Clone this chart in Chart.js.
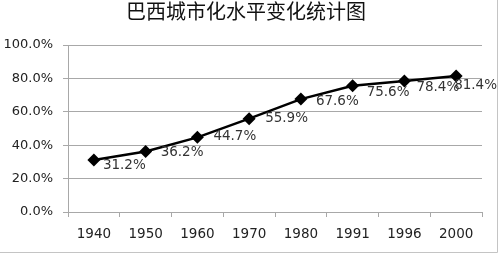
<!DOCTYPE html>
<html>
<head>
<meta charset="utf-8">
<script src="https://cdn.jsdelivr.net/npm/chart.js@4/dist/chart.umd.min.js"></script>
<style>
  html, body { margin: 0; padding: 0; background: #ffffff; }
  #wrap { width: 500px; height: 258px; }
</style>
</head>
<body>
<div id="wrap"><canvas id="c" width="500" height="258"></canvas></div>
<script>
const chartTitle = '巴西城市化水平变化统计图';
const years = ['1940', '1950', '1960', '1970', '1980', '1991', '1996', '2000'];
const urbanRate = [31.2, 36.2, 44.7, 55.9, 67.6, 75.6, 78.4, 81.4];
const yTicks = [0, 20, 40, 60, 80, 100];
// per-label nudge (pixels relative to each point), as in the original chart
const labelNudgeX = [9, 15, 16, 16, 15, 14, 12, -2];
const labelNudgeY = [6, 1, -1, 0, 2, 7, 6, 9];

const textFont = 'DejaVu Sans';
const gridGray = '#a8a8a8';

const dataLabels = {
  id: 'dataLabels',
  afterDatasetsDraw(chart) {
    const ctx = chart.ctx;
    const meta = chart.getDatasetMeta(0);
    ctx.save();
    ctx.font = '13.5px "' + textFont + '"';
    ctx.fillStyle = '#333333';
    ctx.textAlign = 'left';
    ctx.textBaseline = 'middle';
    meta.data.forEach((pt, i) => {
      ctx.fillText(urbanRate[i].toFixed(1) + '%', pt.x + labelNudgeX[i], pt.y + labelNudgeY[i]);
    });
    ctx.restore();
  }
};

const frame = {
  id: 'frame',
  beforeDraw(chart) {
    const ctx = chart.ctx;
    ctx.save();
    ctx.fillStyle = '#ffffff';
    ctx.fillRect(0, 0, chart.width, chart.height);
    ctx.restore();
  },
  afterDraw(chart) {
    const ctx = chart.ctx;
    ctx.save();
    ctx.strokeStyle = '#c4c4c4';
    ctx.lineWidth = 1;
    ctx.beginPath();
    ctx.moveTo(0, 252.5);
    ctx.lineTo(497.5, 252.5);
    ctx.lineTo(497.5, 0);
    ctx.stroke();
    ctx.restore();
  }
};

new Chart(document.getElementById('c'), {
  type: 'line',
  data: {
    labels: years,
    datasets: [{
      data: urbanRate,
      borderColor: '#000000',
      backgroundColor: '#000000',
      borderWidth: 2.5,
      pointStyle: 'rectRot',
      pointRadius: 6.5,
      pointHoverRadius: 6.5,
      pointBackgroundColor: '#000000',
      pointBorderColor: '#000000',
      pointBorderWidth: 0,
      tension: 0,
      fill: false
    }]
  },
  options: {
    responsive: false,
    animation: false,
    events: [],
    layout: { padding: { left: 0, right: 8, top: 0, bottom: 6 } },
    plugins: {
      legend: { display: false },
      tooltip: { enabled: false },
      title: {
        display: true,
        text: chartTitle,
        color: '#111111',
        font: { family: '"Noto Sans CJK SC"', size: 20, weight: 'normal', lineHeight: 1.0 },
        padding: { top: 1, bottom: 24 }
      }
    },
    scales: {
      x: {
        offset: true,
        grid: {
          offset: true,
          drawOnChartArea: false,
          drawTicks: true,
          tickLength: 5,
          color: gridGray,
          lineWidth: 1
        },
        border: { display: true, color: gridGray, width: 1 },
        ticks: {
          color: '#222222',
          padding: 9,
          maxRotation: 0,
          autoSkip: false,
          font: { family: textFont, size: 13.5 }
        },
        afterFit(scale) { scale.height = 40; }
      },
      y: {
        min: 0,
        max: 100,
        afterBuildTicks(scale) { scale.ticks = yTicks.map(v => ({ value: v })); },
        grid: {
          drawTicks: true,
          tickLength: 5,
          color: gridGray,
          lineWidth: 1
        },
        border: { display: true, color: gridGray, width: 1 },
        ticks: {
          color: '#222222',
          padding: 10,
          font: { family: textFont, size: 13 },
          callback: (v) => Number(v).toFixed(1) + '%'
        },
        afterFit(scale) { scale.width = 68; }
      },
      spacer: {
        type: 'linear',
        position: 'right',
        display: true,
        grid: { display: false, drawTicks: false },
        border: { display: false },
        ticks: { display: false },
        afterFit(scale) { scale.width = 10; }
      }
    }
  },
  plugins: [frame, dataLabels]
});
</script>
</body>
</html>
